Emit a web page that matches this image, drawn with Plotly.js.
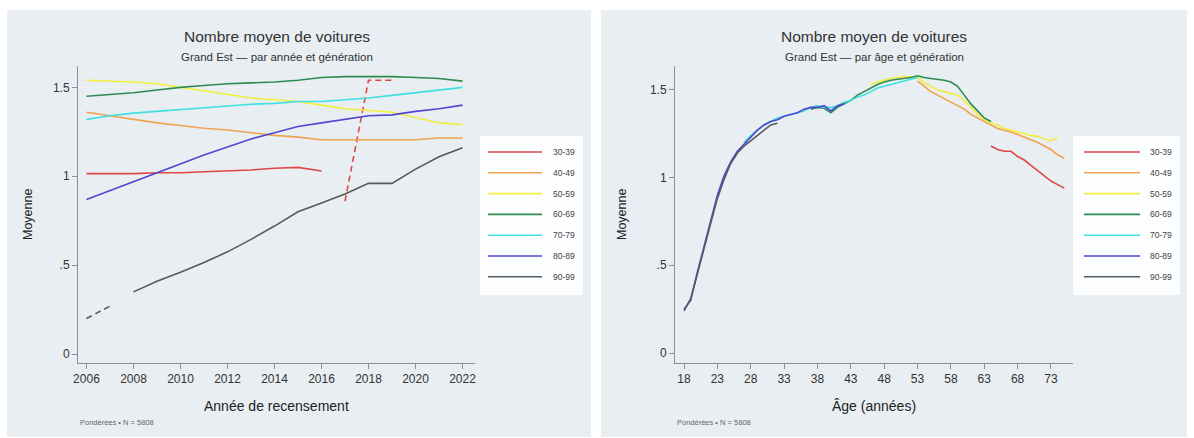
<!DOCTYPE html>
<html><head><meta charset="utf-8">
<script src="https://cdn.plot.ly/plotly-3.0.1.min.js"></script>
<style>html,body{margin:0;padding:0;background:#fff}#g{width:1194px;height:438px}</style>
</head><body><div id="g"></div>
<script>
// ---- data ----
const generations = ["30-39","40-49","50-59","60-69","70-79","80-89","90-99"];
const colors = ["#e04848","#f0a24e","#f2ee3c","#2e8b50","#3fe0e0","#5046d2","#555a5e"];

// Left panel: by census year
const years_3039 = [2006,2007,2008,2009,2010,2011,2012,2013,2014,2015,2016];
const val_3039 = [1.015,1.015,1.015,1.02,1.02,1.025,1.03,1.035,1.045,1.05,1.03];
const years_3039_dash = [2017,2018,2019];
const val_3039_dash = [0.86,1.54,1.54];
const years_all = [2006,2007,2008,2009,2010,2011,2012,2013,2014,2015,2016,2017,2018,2019,2020,2021,2022];
const val_4049 = [1.36,1.34,1.32,1.30,1.285,1.27,1.26,1.245,1.23,1.22,1.205,1.205,1.205,1.205,1.205,1.215,1.215];
const val_5059 = [1.54,1.535,1.53,1.52,1.50,1.48,1.46,1.44,1.43,1.42,1.40,1.38,1.37,1.36,1.33,1.30,1.29];
const val_6069 = [1.45,1.46,1.47,1.485,1.50,1.51,1.52,1.525,1.53,1.54,1.555,1.56,1.56,1.56,1.555,1.55,1.535];
const val_7079 = [1.32,1.34,1.355,1.365,1.375,1.385,1.395,1.405,1.41,1.42,1.42,1.43,1.44,1.455,1.47,1.485,1.50];
const val_8089 = [0.87,0.92,0.97,1.02,1.07,1.12,1.165,1.21,1.245,1.28,1.30,1.32,1.34,1.345,1.365,1.38,1.40];
const years_9099_dash = [2006,2007];
const val_9099_dash = [0.20,0.27];
const years_9099 = [2008,2009,2010,2011,2012,2013,2014,2015,2016,2017,2018,2019,2020,2021,2022];
const val_9099 = [0.35,0.41,0.46,0.515,0.575,0.645,0.72,0.80,0.85,0.90,0.96,0.96,1.04,1.11,1.16];

// Right panel: by age
const age_3039 = [64,65,66,67,68,69,70,71,72,73,74,75];
const a_3039 = [1.18,1.16,1.15,1.15,1.12,1.10,1.07,1.04,1.01,0.98,0.96,0.94];
const age_4049 = [53,54,55,56,57,58,59,60,61,62,63,64,65,66,67,68,69,70,71,72,73,74,75];
const a_4049 = [1.55,1.52,1.49,1.47,1.45,1.43,1.41,1.39,1.36,1.34,1.32,1.30,1.28,1.27,1.26,1.245,1.23,1.215,1.20,1.18,1.16,1.13,1.11];
const age_5059 = [46,47,48,49,50,51,52,53,54,55,56,57,58,59,60,61,62,63,64,65,66,67,68,69,70,71,72,73,74];
const a_5059 = [1.53,1.545,1.555,1.565,1.57,1.575,1.575,1.57,1.54,1.52,1.50,1.49,1.48,1.47,1.44,1.40,1.36,1.33,1.31,1.30,1.28,1.27,1.26,1.25,1.24,1.235,1.22,1.21,1.225];
const age_6069 = [37,38,39,40,41,42,43,44,45,46,47,48,49,50,51,52,53,54,55,56,57,58,59,60,61,62,63,64];
const a_6069 = [1.39,1.40,1.395,1.37,1.40,1.42,1.44,1.47,1.49,1.51,1.53,1.545,1.555,1.56,1.565,1.57,1.58,1.57,1.565,1.56,1.555,1.545,1.52,1.47,1.42,1.38,1.34,1.32];
const age_7079 = [27,28,29,30,31,32,33,34,35,36,37,38,39,40,41,42,43,44,45,46,47,48,49,50,51,52,53];
const a_7079 = [1.20,1.24,1.27,1.30,1.32,1.34,1.35,1.36,1.37,1.38,1.40,1.41,1.40,1.40,1.41,1.43,1.44,1.46,1.47,1.49,1.51,1.52,1.53,1.54,1.55,1.56,1.57];
const age_8089 = [18,19,20,21,22,23,24,25,26,27,28,29,30,31,32,33,34,35,36,37,38,39,40,41,42];
const a_8089 = [0.25,0.30,0.46,0.61,0.75,0.90,1.01,1.09,1.15,1.19,1.23,1.27,1.30,1.32,1.33,1.35,1.36,1.37,1.39,1.40,1.40,1.41,1.38,1.41,1.42];
const age_9099 = [18,19,20,21,22,23,24,25,26,27,28,29,30,31,32];
const a_9099 = [0.24,0.31,0.45,0.60,0.74,0.88,0.99,1.08,1.14,1.18,1.21,1.24,1.27,1.30,1.31];

// ticks
const yTickVals = [0,0.5,1,1.5];
const yTickText = ["0",".5","1","1.5"];
const xTickYears = [2006,2008,2010,2012,2014,2016,2018,2020,2022];
const xTickAges = [18,23,28,33,38,43,48,53,58,63,68,73];

// ---- layout helpers (pixels -> paper) ----
const W = 1194, H = 438;
const px = x => x / W, py = y => 1 - y / H;
const font = "Liberation Sans, Arial, sans-serif";

function tr(x, y, i, axis, dash) {
  return {x: x, y: y, type: "scatter", mode: "lines", showlegend: false,
    xaxis: axis === 1 ? "x" : "x2", yaxis: axis === 1 ? "y" : "y2",
    line: {color: colors[i], width: 1.6, dash: dash || "solid"}, hoverinfo: "skip"};
}
const traces = [
  tr(years_3039, val_3039, 0, 1), tr(years_3039_dash, val_3039_dash, 0, 1, "6px,4px"),
  tr(years_all, val_4049, 1, 1), tr(years_all, val_5059, 2, 1), tr(years_all, val_6069, 3, 1),
  tr(years_all, val_7079, 4, 1), tr(years_all, val_8089, 5, 1),
  tr(years_9099_dash, val_9099_dash, 6, 1, "6px,4px"), tr(years_9099, val_9099, 6, 1),
  tr(age_3039, a_3039, 0, 2), tr(age_4049, a_4049, 1, 2), tr(age_5059, a_5059, 2, 2),
  tr(age_6069, a_6069, 3, 2), tr(age_7079, a_7079, 4, 2), tr(age_8089, a_8089, 5, 2),
  tr(age_9099, a_9099, 6, 2)
];

const axisCommon = {showline: true, linecolor: "#8a8f93", linewidth: 1, ticks: "outside",
  ticklen: 5, tickcolor: "#8a8f93", tickfont: {family: font, size: 12, color: "#333"},
  zeroline: false, fixedrange: true};
const yCommon = Object.assign({}, axisCommon, {tickmode: "array", tickvals: yTickVals,
  ticktext: yTickText, showgrid: true, gridcolor: "#eef2f4", gridwidth: 1, range: [-0.05, 1.62]});

const shapes = [], annotations = [];
function panel(x0, x1, plotX0, plotCx, title, subtitle, xtitle, legX0, legX1, lineX0, lineX1, labX) {
  shapes.push({type: "rect", xref: "paper", yref: "paper", x0: px(x0), x1: px(x1), y0: py(437), y1: py(10),
    fillcolor: "#e8eef2", line: {width: 0}, layer: "below"});
  annotations.push({xref: "paper", yref: "paper", x: px(plotCx), y: py(37), text: title, showarrow: false,
    font: {family: font, size: 15.5, color: "#333"}, xanchor: "center", yanchor: "middle"});
  annotations.push({xref: "paper", yref: "paper", x: px(plotCx), y: py(57), text: subtitle, showarrow: false,
    font: {family: font, size: 11.5, color: "#333"}, xanchor: "center", yanchor: "middle"});
  annotations.push({xref: "paper", yref: "paper", x: px(plotCx), y: py(406), text: xtitle, showarrow: false,
    font: {family: font, size: 14, color: "#222"}, xanchor: "center", yanchor: "middle"});
  annotations.push({xref: "paper", yref: "paper", x: px(x0 + 21), y: py(215), text: "Moyenne", showarrow: false,
    textangle: -90, font: {family: font, size: 12.5, color: "#222"}, xanchor: "center", yanchor: "middle"});
  annotations.push({xref: "paper", yref: "paper", x: px(plotX0), y: py(422), text: "Pondérées • N = 5808", showarrow: false,
    font: {family: font, size: 7.5, color: "#666"}, xanchor: "left", yanchor: "middle"});
  // legend
  shapes.push({type: "rect", xref: "paper", yref: "paper", x0: px(legX0), x1: px(legX1), y0: py(295), y1: py(136),
    fillcolor: "#fbfdfe", line: {width: 0}, layer: "below"});
  generations.forEach((g, i) => {
    const yy = 152 + i * 20.8;
    shapes.push({type: "line", xref: "paper", yref: "paper", x0: px(lineX0), x1: px(lineX1), y0: py(yy), y1: py(yy),
      line: {color: colors[i], width: 1.6}});
    annotations.push({xref: "paper", yref: "paper", x: px(labX), y: py(yy), text: g, showarrow: false,
      font: {family: font, size: 8.5, color: "#444"}, xanchor: "left", yanchor: "middle"});
  });
}
panel(7, 591, 78, 276.5, "Nombre moyen de voitures", "Grand Est — par année et génération", "Année de recensement",
  480, 583, 488, 542, 551);
panel(601, 1187, 675, 874, "Nombre moyen de voitures", "Grand Est — par âge et génération", "Âge (années)",
  1073, 1180, 1084, 1140, 1148);

const layout = {
  width: W, height: H, margin: {l: 0, r: 0, t: 0, b: 0}, paper_bgcolor: "#ffffff", plot_bgcolor: "#ffffff",
  showlegend: false, font: {family: font},
  xaxis: Object.assign({}, axisCommon, {domain: [px(78), px(475)], range: [2005.64, 2022.53], tickmode: "array",
    tickvals: xTickYears, showgrid: false, anchor: "y"}),
  yaxis: Object.assign({}, yCommon, {domain: [py(363), py(66)], anchor: "x"}),
  xaxis2: Object.assign({}, axisCommon, {domain: [px(675), px(1073)], range: [16.65, 76.3], tickmode: "array",
    tickvals: xTickAges, showgrid: false, anchor: "y2"}),
  yaxis2: Object.assign({}, yCommon, {domain: [py(363), py(66)], anchor: "x2", range: [-0.057, 1.636]}),
  shapes: shapes, annotations: annotations
};
Plotly.newPlot("g", traces, layout, {staticPlot: true, displayModeBar: false});
</script></body></html>
